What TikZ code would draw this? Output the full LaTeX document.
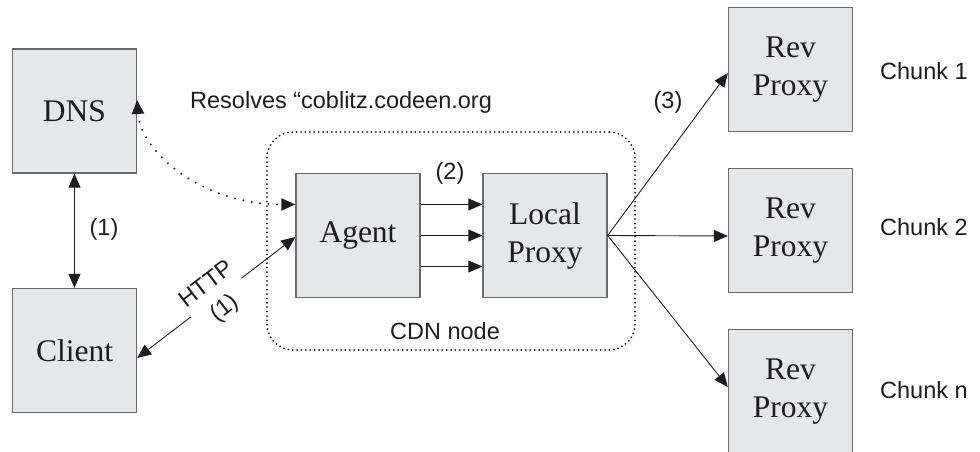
\documentclass[tikz,border=0pt]{standalone}
\usepackage{fontspec}
\setmainfont{Liberation Serif}
\setsansfont{Liberation Sans}
\usetikzlibrary{arrows.meta}
\definecolor{boxfill}{RGB}{230,231,232}
\definecolor{boxline}{RGB}{105,105,108}
\definecolor{ink}{RGB}{30,28,28}
\tikzset{
  box/.style={draw=boxline, fill=boxfill, line width=1.3pt, minimum width=124pt, minimum height=124pt, inner sep=0pt, align=center, font=\fontsize{31.5}{38}\selectfont, text=ink},
  lbl/.style={inner sep=0pt, font=\sffamily\fontsize{23.5}{28}\selectfont, text=ink},
  tip/.style={-{Triangle[length=14pt,width=12pt]}},
  twotip/.style={{Triangle[length=14pt,width=12pt]}-{Triangle[length=14pt,width=12pt]}},
  conn/.style={draw=ink, line width=0.9pt},
}
\begin{document}
\begin{tikzpicture}[x=1pt,y=-1pt]
\useasboundingbox (0,0) rectangle (980,452);
% CDN node region
\node[draw=ink, line width=2pt, line cap=round, dash pattern=on 0pt off 4.4pt, rounded corners=26pt,
      minimum width=368pt, minimum height=218pt, inner sep=0pt] (cdn) at (451,241) {};
% boxes
\node[box] (dns) at (74.5,111) {DNS};
\node[box] (client) at (74.5,350.5) {Client};
\node[box] (agent) at (358,235.5) {Agent};
\node[box] (local) at (545,235.5) {Local\\Proxy};
\node[box] (rev1) at (790.5,69.5) {Rev\\Proxy};
\node[box] (rev2) at (790.5,230.5) {Rev\\Proxy};
\node[box] (rev3) at (790.5,391.5) {Rev\\Proxy};
% labels
\node[lbl, anchor=base west] (res) at (190,108) {Resolves “coblitz.codeen.org};
\node[lbl, anchor=base] (cdnlbl) at (445,339) {CDN node};
\node[lbl] (one) at (104,229) {(1)};
\node[lbl] (two) at (450,173) {(2)};
\node[lbl] (three) at (668,102) {(3)};
\node[lbl, anchor=base west] (c1) at (880,80) {Chunk 1};
\node[lbl, anchor=base west] (c2) at (880,235) {Chunk 2};
\node[lbl, anchor=base west] (cn) at (880,398) {Chunk n};
% connectors
\draw[conn, twotip] (dns.south) -- (client.north);
\draw[conn, twotip, line width=2.2pt, line cap=round, dash pattern=on 0pt off 8.5pt]
  (dns.10) .. controls +(3,50) and +(-96,0) .. ([yshift=31pt]agent.west);
\draw[conn, twotip] ([yshift=-7.5pt]client.east) -- node[midway, sloped, fill=white, inner xsep=1pt, inner ysep=0pt, align=center, font=\sffamily\fontsize{23.5}{30}\selectfont, text=ink] (http) {HTTP\\(1)} ([yshift=-1.5pt]agent.west);
\draw[conn, tip] ([yshift=31pt]agent.east) -- ([yshift=31pt]local.west);
\draw[conn, tip] (agent.east) -- (local.west);
\draw[conn, tip] ([yshift=-31pt]agent.east) -- ([yshift=-31pt]local.west);
\draw[conn, tip] (local.east) -- ([yshift=-3.5pt]rev1.west);
\draw[conn, tip] (local.east) -- ([yshift=-5.5pt]rev2.west);
\draw[conn, tip] (local.east) -- ([yshift=4.5pt]rev3.west);
\end{tikzpicture}
\end{document}
